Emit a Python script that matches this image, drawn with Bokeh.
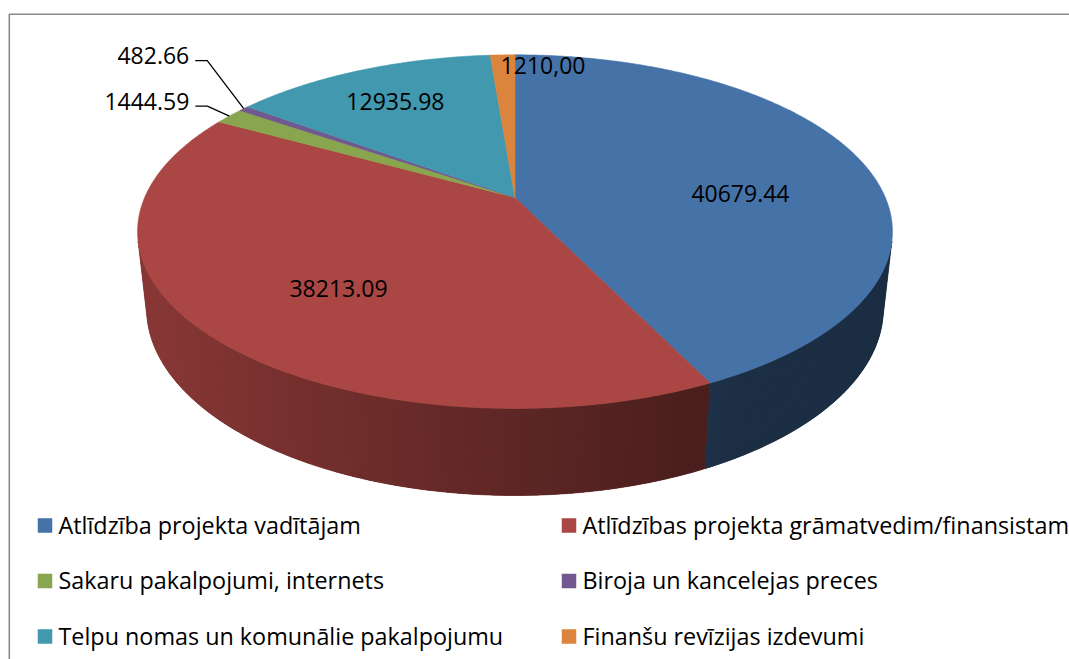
import numpy as np
from bokeh.plotting import figure
from bokeh.models import Range1d, ColumnDataSource
from bokeh.core.properties import value
from bokeh.embed import file_html
from bokeh.resources import INLINE

# ---------------- data ----------------
categories = [
    "Atlīdzība projekta vadītājam",
    "Atlīdzības projekta grāmatvedim/finansistam",
    "Sakaru pakalpojumi, internets",
    "Biroja un kancelejas preces",
    "Telpu nomas un komunālie pakalpojumu",
    "Finanšu revīzijas izdevumi",
]
values = [40679.44, 38213.09, 1444.59, 482.66, 12935.98, 1210.00]
value_labels = ["40679.44", "38213.09", "1444.59", "482.66", "12935.98", "1210,00"]

# ---------------- styles / layout ----------------
colors = ["#4572A7", "#AA4643", "#89A54E", "#71588F", "#4198AF", "#DB843D"]
label_mode = ["inside", "inside", "callout", "callout", "inside", "inside_end"]
inside_pos = {0: (0.612, 10.7), 1: (0.649, -4.9), 4: (0.729, -0.7)}   # (radius, angle nudge deg)
callout_offset = {2: (-22.0, -10.0), 3: (-36.5, -48.0)}
FONT = "Open Sans"
LABEL_SIZE = "23px"
LEGEND_SIZE = "23.35px"

# page-pixel coordinate system
W, H = 1069, 659
CX, CY = 514.5, 197.0          # apex of pie on screen
F = 1703.5                      # focal length (px)
D = 4.600                       # camera distance (pie radii)
ELEV = np.arcsin(0.4597)
S, C = np.sin(ELEV), np.cos(ELEV)
HEIGHT = 0.2348                 # pie thickness (pie radii)


def proj(x, y, z):
    den = D + C * y - S * z
    return CX + F * x / den, CY - F * (S * y + C * z) / den


def hex_rgb(h):
    h = h.lstrip("#")
    return tuple(int(h[i:i + 2], 16) for i in (0, 2, 4))


def shade(h, f):
    r, g, b = hex_rgb(h)
    return "#%02x%02x%02x" % tuple(int(max(0, min(255, round(v * f)))) for v in (r, g, b))


def side_factor(t):
    return float(np.clip(0.55 - 0.28 * np.sin(t), 0.4, 0.86))


total = float(sum(values))
fracs = [v / total for v in values]
starts = np.concatenate([[0.0], np.cumsum(fracs)[:-1]]) * 2 * np.pi
ends = np.cumsum(fracs) * 2 * np.pi

p = figure(width=W, height=H, x_range=Range1d(0, W), y_range=Range1d(H, 0),
           output_backend="svg", toolbar_location=None, min_border=0)
p.xaxis.visible = False
p.yaxis.visible = False
p.xgrid.visible = False
p.ygrid.visible = False
p.outline_line_color = None
p.background_fill_color = "white"
p.border_fill_color = "white"

# ---------------- side wall ----------------
kvis = -1.0 / (D * C)
vis_lo = np.arccos(kvis)
vis_hi = 2 * np.pi - vis_lo
bx_, by_, bc_ = [], [], []
sx, sy, sc = [], [], []
STEP = np.radians(0.5)
for i in range(len(values)):
    a0 = max(starts[i], vis_lo)
    a1 = min(ends[i], vis_hi)
    if a1 <= a0:
        continue
    n = max(2, int(np.ceil((a1 - a0) / STEP)) + 1)
    th = np.linspace(a0, a1, n)
    # base polygon for the whole wall part of this slice
    tx0, ty0 = proj(np.sin(th), np.cos(th), 0.0)
    tx1, ty1 = proj(np.sin(th[::-1]), np.cos(th[::-1]), -HEIGHT)
    bx_.append(list(tx0) + list(tx1))
    by_.append(list(ty0) + list(ty1))
    bc_.append(shade(colors[i], side_factor(0.5 * (a0 + a1))))
    # gradient strips (overlapping) on top
    for j in range(n - 1):
        t0 = th[j]
        t1 = min(th[j + 1] + 0.6 * STEP, a1)
        xs_, ys_ = [], []
        for (t, z) in ((t0, 0.0), (t1, 0.0), (t1, -HEIGHT), (t0, -HEIGHT)):
            px, py = proj(np.sin(t), np.cos(t), z)
            xs_.append(px)
            ys_.append(py)
        sx.append(xs_)
        sy.append(ys_)
        sc.append(shade(colors[i], side_factor(0.5 * (th[j] + th[j + 1]))))
p.patches("xs", "ys", source=ColumnDataSource(dict(xs=bx_, ys=by_, c=bc_)),
          fill_color="c", line_color="c", line_width=0.6)
p.patches("xs", "ys", source=ColumnDataSource(dict(xs=sx, ys=sy, c=sc)),
          fill_color="c", line_color=None)

# ---------------- top face ----------------
tx, ty, tc = [], [], []
for i in range(len(values)):
    n = max(2, int(np.ceil((ends[i] - starts[i]) / STEP)) + 1)
    th = np.linspace(starts[i], ends[i], n)
    px, py = proj(np.sin(th), np.cos(th), 0.0)
    tx.append([CX] + list(px))
    ty.append([CY] + list(py))
    tc.append(colors[i])
p.patches("xs", "ys", source=ColumnDataSource(dict(xs=tx, ys=ty, c=tc)),
          fill_color="c", line_color="c", line_width=0.6)

# ---------------- data labels ----------------
lx, ly, lt, la = [], [], [], []
lead_x, lead_y = [], []
for i in range(len(values)):
    mid = 0.5 * (starts[i] + ends[i])
    if label_mode[i] == "inside":
        r, nudge = inside_pos[i]
        a = mid + np.radians(nudge)
        px, py = proj(r * np.sin(a), r * np.cos(a), 0.0)
        lx.append(px); ly.append(py); lt.append(value_labels[i]); la.append("center")
    elif label_mode[i] == "inside_end":
        px, py = proj(np.sin(mid), np.cos(mid), 0.0)
        lx.append(px - 2); ly.append(py + 11); lt.append(value_labels[i]); la.append("left")
    else:
        ex, ey = proj(np.sin(mid), np.cos(mid), 0.0)
        dx, dy = callout_offset[i]
        bx, by = ex + dx, ey + dy
        hx = bx - 12
        lead_x.append([ex, bx, hx]); lead_y.append([ey, by, by])
        lx.append(hx - 6); ly.append(by - 5); lt.append(value_labels[i]); la.append("right")

p.multi_line(lead_x, lead_y, line_color="black", line_width=1.3)
p.text(x=lx, y=ly, text=lt, text_align=la, text_baseline="middle",
       text_font=value(FONT), text_font_size=LABEL_SIZE, text_color="black")

# ---------------- legend ----------------
leg_col_x = [44.5, 568.5]
leg_row_y = [525.0, 580.5, 636.0]
mx, my, mc, gx, gy, gt = [], [], [], [], [], []
for i, name in enumerate(categories):
    col, row = i % 2, i // 2
    mx.append(leg_col_x[col]); my.append(leg_row_y[row]); mc.append(colors[i])
    gx.append(leg_col_x[col] + 13.5); gy.append(leg_row_y[row] - 1); gt.append(name)
p.rect(x=mx, y=my, width=14.5, height=14.5, fill_color=mc, line_color=None)
p.text(x=gx, y=gy, text=gt, text_align="left", text_baseline="middle",
       text_font=value(FONT), text_font_size=LEGEND_SIZE, text_color="black")

# ---------------- chart area border ----------------
p.line(x=[8.8, 8.8, 1100], y=[700, 13.8, 13.8], line_color="#8a8a8a", line_width=1.6)

open("out.html", "w").write(file_html(p, INLINE))
